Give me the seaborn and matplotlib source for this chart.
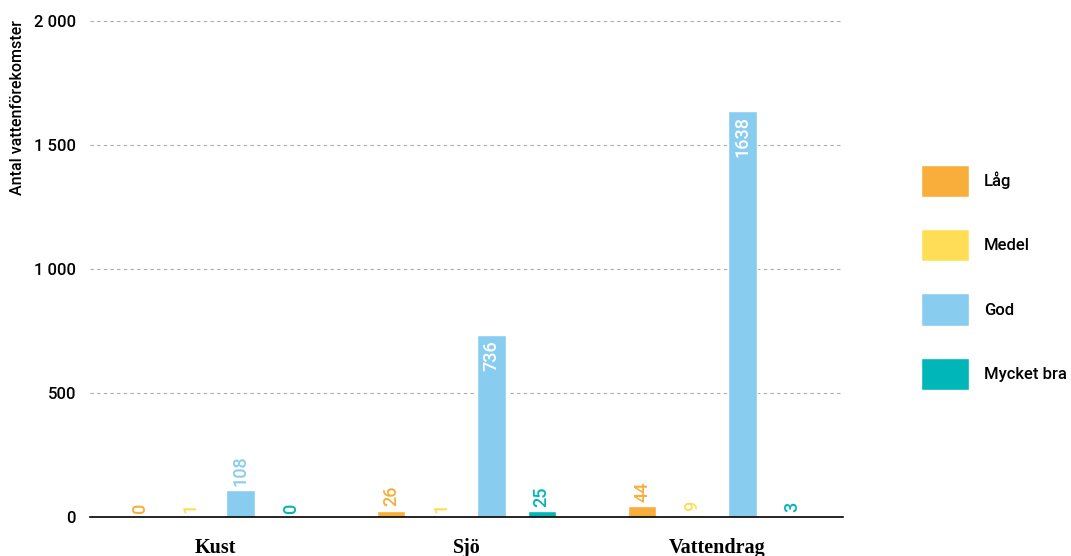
import matplotlib
matplotlib.use("Agg")
import matplotlib.pyplot as plt
import seaborn as sns
import pandas as pd
from matplotlib.ticker import FixedLocator, FuncFormatter

categories = ["Kust", "Sjö", "Vattendrag"]
classes = ["Låg", "Medel", "God", "Mycket bra"]
values_lag = [0, 26, 44]
values_medel = [1, 1, 9]
values_god = [108, 736, 1638]
values_mycket_bra = [0, 25, 3]
colors = ["#F9AD3A", "#FFDE55", "#88CDEF", "#00B6B8"]
yticks = [0, 500, 1000, 1500, 2000]

sns.set_theme(style="white")
sansfam = ["Roboto", "DejaVu Sans"]
plt.rcParams["font.family"] = sansfam
plt.rcParams["text.color"] = "black"
plt.rcParams["xtick.color"] = "black"
plt.rcParams["ytick.color"] = "black"

rows = []
for cls, vals in zip(classes, [values_lag, values_medel, values_god, values_mycket_bra]):
    for cat, v in zip(categories, vals):
        rows.append({"Typ": cat, "Klass": cls, "Antal": v})
df = pd.DataFrame(rows)

fig = plt.figure(figsize=(10.71, 5.56), dpi=100)
ax = fig.add_axes([0.084, 0.070, 0.703, 0.892])

sns.barplot(data=df, x="Typ", y="Antal", hue="Klass", order=categories,
            hue_order=classes, palette=colors, width=0.8, gap=0.44,
            saturation=1, ax=ax, legend=True, errorbar=None)

ax.set_ylim(0, 2000)
ax.set_xlim(-0.5, 2.5)
ax.yaxis.set_major_locator(FixedLocator(yticks))
ax.yaxis.set_major_formatter(FuncFormatter(lambda v, p: f"{int(v):,}".replace(",", " ")))
for y in yticks[1:]:
    ax.axhline(y, color="#aaaaaa", lw=0.8, ls=(0, (3, 3)), zorder=0)

for s in ["left", "right", "top"]:
    ax.spines[s].set_visible(False)
ax.spines["bottom"].set_color("black")
ax.spines["bottom"].set_linewidth(1.2)

ax.tick_params(axis="y", length=0, labelsize=12, pad=10, labelcolor="black")
for t in ax.get_yticklabels():
    t.set_fontweight("medium")
ax.tick_params(axis="x", length=0, pad=15, labelcolor="black")
ax.set_xticks(range(len(categories)))
ax.set_xticklabels(categories, family=["Liberation Serif", "DejaVu Serif"],
                   fontsize=14.5, fontweight="bold")
ax.set_xticks([0.5, 1.5], minor=True)
ax.tick_params(axis="x", which="minor", direction="in", length=9, width=1, color="#333333")

ax.set_xlabel("")
ax.set_ylabel("")
fig.text(18 / 1071, 1 - 20 / 556, "Antal vattenförekomster", rotation=90,
         ha="center", va="top", fontsize=11.5, fontweight="medium", color="black")

for cont, col in zip(ax.containers, colors):
    for p in cont.patches:
        h = p.get_height()
        xc = p.get_x() + p.get_width() / 2
        if h > 400:
            ax.annotate(f"{int(round(h))}", (xc, h), xytext=(0, -4), textcoords="offset points",
                        rotation=90, ha="center", va="top", color="white", fontsize=13,
                        fontweight="medium")
        else:
            ax.annotate(f"{int(round(h))}", (xc, h), xytext=(0, 3), textcoords="offset points",
                        rotation=90, ha="center", va="bottom", color=col, fontsize=13,
                        fontweight="medium")

handles, labels = ax.get_legend_handles_labels()
leg = ax.legend(handles, labels, loc="upper left", bbox_to_anchor=(1.104, 0.710),
                frameon=False, fontsize=12, handlelength=2.85, handleheight=2.6,
                labelspacing=1.92, handletextpad=0.9, borderpad=0, borderaxespad=0)
for t in leg.get_texts():
    t.set_fontweight("medium")
    t.set_color("black")

fig.savefig("out.png", dpi=100)
